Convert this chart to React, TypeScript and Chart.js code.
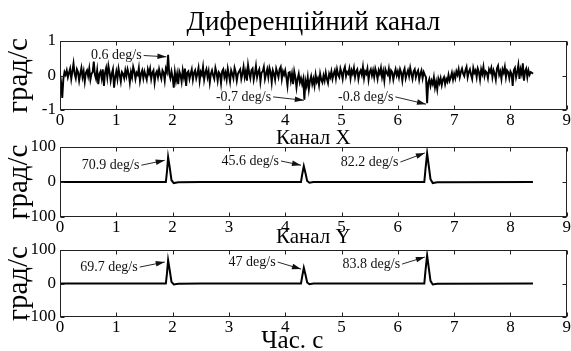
import React, { useEffect, useRef } from "react";
import { Chart, registerables } from "chart.js";

Chart.register(...registerables);

// ---------------- data ----------------
// differential channel (deg/s), sampled every TIME_STEP seconds starting at 0
const TIME_STEP = 0.02;
const diffValues: number[] = [
  0.05, -0.2, -0.65, -0.1, 0.1, 0.02, 0.15, -0.05, 0.08, 0.2, -0.1, 0.12, 0.35, 0.05, -0.08, 0.18, 0.1, -0.15, 0.05, 0.22,
  -0.05, 0.12, -0.18, 0.08, 0.15, -0.02, 0.2, -0.12, 0.05, 0.1, 0.4, 0.02, -0.1, 0.15, -0.25, 0.05, 0.12, -0.08, 0.18, -0.3,
  0.08, 0.22, -0.05, 0.28, 0.1, -0.15, 0.05, 0.18, -0.35, -0.05, 0.12, -0.1, 0.2, 0.02, -0.18, 0.1, 0.05, -0.08, 0.15, -0.02,
  0.18, 0.05, -0.2, 0.1, -0.05, 0.25, 0.12, -0.1, 0.08, 0.02, 0.22, -0.15, 0.05, 0.15, -0.08, 0.12, 0.0, -0.12, 0.18, 0.05,
  0.2, -0.1, 0.08, 0.15, -0.2, 0.05, 0.12, -0.05, 0.18, 0.02, -0.1, 0.15, 0.08, -0.15, 0.2, 0.1, 0.6, 0.05, -0.08, 0.12,
  -0.05, -0.35, 0.1, -0.15, 0.05, -0.25, 0.12, 0.02, -0.18, 0.15, -0.05, 0.2, -0.3, 0.08, 0.12, -0.1, 0.05, 0.18, -0.12, 0.08,
  0.15, -0.08, 0.05, 0.22, -0.15, 0.1, 0.02, 0.25, -0.12, 0.08, 0.18, -0.05, 0.12, -0.2, 0.05, 0.15, 0.0, -0.1, 0.22, 0.08,
  -0.15, 0.1, 0.05, -0.22, 0.12, 0.18, -0.05, 0.08, -0.12, 0.2, 0.02, -0.18, 0.15, 0.05, -0.08, 0.22, 0.1, -0.15, 0.05, 0.12,
  0.18, -0.1, 0.05, 0.25, -0.05, 0.12, -0.15, 0.3, 0.08, -0.08, 0.15, 0.2, -0.12, 0.05, 0.28, -0.05, 0.1, 0.18, -0.18, 0.08,
  0.12, 0.25, -0.1, 0.05, 0.18, -0.05, 0.22, 0.1, -0.2, 0.15, 0.05, -0.12, 0.2, 0.08, -0.05, 0.18, 0.25, -0.1, 0.12, 0.02,
  0.15, -0.05, -0.3, 0.08, 0.1, -0.15, 0.05, -0.25, 0.12, -0.05, -0.35, -0.1, 0.05, -0.2, -0.08, -0.25, -0.1, -0.7, -0.15, -0.3,
  -0.05, -0.4, -0.15, -0.02, -0.25, -0.1, -0.3, 0.02, -0.18, -0.08, -0.28, 0.05, -0.12, -0.2, 0.0, -0.15, 0.08, -0.1, -0.22, 0.05,
  -0.05, 0.12, -0.1, 0.05, 0.15, -0.08, 0.18, 0.02, -0.05, 0.2, 0.08, -0.1, 0.15, 0.25, -0.02, 0.1, 0.05, 0.2, -0.08, 0.15,
  0.05, 0.22, -0.05, 0.12, 0.18, -0.1, 0.08, 0.15, 0.02, 0.25, -0.08, 0.12, 0.05, 0.2, -0.12, 0.1, 0.18, 0.0, 0.15, -0.05,
  0.2, 0.08, -0.1, 0.15, 0.05, 0.22, -0.05, 0.12, -0.15, 0.18, 0.08, 0.02, 0.2, -0.08, 0.15, 0.1, -0.12, 0.05, 0.18, 0.0,
  0.12, -0.05, 0.18, 0.08, -0.15, 0.1, 0.2, -0.08, 0.05, 0.15, -0.02, 0.22, 0.05, -0.1, 0.12, 0.18, -0.05, 0.08, 0.15, -0.12,
  0.05, 0.15, -0.08, 0.1, 0.02, -0.05, -0.8, -0.2, -0.1, -0.3, -0.15, -0.25, -0.05, -0.35, -0.18, -0.4, -0.1, -0.22, -0.08, -0.28,
  -0.12, -0.05, -0.25, -0.1, -0.18, 0.02, -0.15, -0.05, 0.08, -0.12, 0.05, -0.08, 0.12, 0.02, 0.18, -0.05, 0.1, 0.2, 0.05, -0.02,
  0.15, 0.25, -0.05, 0.1, 0.18, 0.02, -0.1, 0.22, 0.08, 0.15, -0.05, 0.2, 0.1, -0.12, 0.18, 0.05, 0.25, -0.02, 0.12, 0.08,
  -0.08, 0.18, 0.1, 0.22, -0.05, 0.15, 0.05, -0.12, 0.2, 0.28, 0.02, 0.12, -0.1, 0.18, 0.08, 0.25, -0.05, 0.15, 0.1, -0.08,
  0.12, 0.05, -0.3, 0.15, 0.22, -0.05, 0.1, 0.3, -0.1, 0.18, 0.05, 0.35, -0.15, 0.12, 0.2, -0.05, 0.15, 0.02, 0.1, 0.08,
  0.05,
];

// channel X (deg/s)
const chanXTime: number[] = [0, 1.88, 1.9, 1.92, 1.95, 1.98, 2.02, 2.1, 2.5, 4.28, 4.3, 4.33, 4.36, 4.39, 4.43, 4.5, 6.47, 6.49, 6.52, 6.55, 6.58, 6.62, 6.7, 8.4];
const chanXValues: number[] = [0, 0, 30, 70.9, 40, 5, -3, -1, 0, 0, 20, 45.6, 25, 3, -2, 0, 0, 35, 82.2, 45, 8, -3, -1, 0];

// channel Y (deg/s)
const chanYTime: number[] = [0, 1.88, 1.9, 1.92, 1.95, 1.98, 2.02, 2.1, 2.5, 4.28, 4.3, 4.33, 4.36, 4.39, 4.43, 4.5, 6.47, 6.49, 6.52, 6.55, 6.58, 6.62, 6.7, 8.4];
const chanYValues: number[] = [0, 0, 30, 69.7, 38, 5, -3, -1, 0, 0, 20, 47, 26, 3, -2, 0, 0, 36, 83.8, 46, 8, -3, -1, 0];

// tick labels
const xTickValues: number[] = [0, 1, 2, 3, 4, 5, 6, 7, 8, 9];
const diffTickValues: number[] = [-1, 0, 1];
const chanTickValues: number[] = [-100, 0, 100];

// annotation labels
const diffLabels: string[] = ["0.6 deg/s", "-0.7 deg/s", "-0.8 deg/s"];
const chanXLabels: string[] = ["70.9 deg/s", "45.6 deg/s", "82.2 deg/s"];
const chanYLabels: string[] = ["69.7 deg/s", "47 deg/s", "83.8 deg/s"];

const titles: string[] = ["Диференційний канал", "Канал X", "Канал Y"];
const yAxisTitle = "град/с";
const xAxisTitle = "Час. с";

// ---------------- styling / layout ----------------
const FONT = '"Liberation Serif", "Times New Roman", serif';
const W = 571;
const H = 351;

// annotation placements in data coordinates: [textRightX, textY, tipX, tipY]
const diffAnnPos = [
  [1.45, 0.58, 1.89, 0.54],
  [3.75, -0.62, 4.33, -0.72],
  [5.92, -0.62, 6.5, -0.83],
];
const chanXAnnPos = [
  [1.41, 48, 1.86, 62],
  [3.89, 60, 4.28, 48],
  [6.01, 57, 6.48, 83],
];
const chanYAnnPos = [
  [1.38, 49, 1.86, 64],
  [3.83, 64, 4.28, 43],
  [6.04, 58, 6.48, 79],
];

const decorPlugin = {
  id: "decor",
  afterDraw(chart: any, _args: any, opts: any) {
    const ctx = chart.ctx as CanvasRenderingContext2D;
    const a = chart.chartArea;
    const xs = chart.scales.x;
    const ys = chart.scales.y;
    ctx.save();
    const L = Math.round(a.left) + 0.5;
    const R = Math.round(a.right) - 0.5;
    const T = Math.round(a.top) + 0.5;
    const B = Math.round(a.bottom) - 0.5;
    ctx.strokeStyle = "#222";
    ctx.lineWidth = 1;
    ctx.strokeRect(L, T, R - L, B - T);
    // inward ticks
    ctx.beginPath();
    const tl = 4;
    xs.ticks.forEach((t: any) => {
      const px = Math.round(xs.getPixelForValue(t.value)) + 0.5;
      ctx.moveTo(px, T);
      ctx.lineTo(px, T + tl);
      ctx.moveTo(px, B);
      ctx.lineTo(px, B - tl);
    });
    ys.ticks.forEach((t: any) => {
      const py = Math.round(ys.getPixelForValue(t.value)) + 0.5;
      ctx.moveTo(L, py);
      ctx.lineTo(L + tl, py);
      ctx.moveTo(R, py);
      ctx.lineTo(R - tl, py);
    });
    ctx.stroke();

    // annotations
    ctx.fillStyle = "#111";
    ctx.strokeStyle = "#111";
    ctx.font = `14px ${FONT}`;
    ctx.textAlign = "right";
    ctx.textBaseline = "middle";
    (opts.labels || []).forEach((label: string, i: number) => {
      const p = opts.positions[i];
      const tx = xs.getPixelForValue(p[0]);
      const ty = ys.getPixelForValue(p[1]);
      const ax = xs.getPixelForValue(p[2]);
      const ay = ys.getPixelForValue(p[3]);
      ctx.fillText(label, tx, ty);
      const sx = tx + 2;
      const sy = ty;
      ctx.beginPath();
      ctx.lineWidth = 0.9;
      ctx.moveTo(sx, sy);
      ctx.lineTo(ax, ay);
      ctx.stroke();
      const ang = Math.atan2(ay - sy, ax - sx);
      const hl = 9;
      const hw = 2.8;
      ctx.beginPath();
      ctx.moveTo(ax, ay);
      ctx.lineTo(ax - hl * Math.cos(ang) + hw * Math.sin(ang), ay - hl * Math.sin(ang) - hw * Math.cos(ang));
      ctx.lineTo(ax - hl * Math.cos(ang) - hw * Math.sin(ang), ay - hl * Math.sin(ang) + hw * Math.cos(ang));
      ctx.closePath();
      ctx.fill();
    });

    // titles
    ctx.fillStyle = "#000";
    ctx.textAlign = "center";
    ctx.textBaseline = "alphabetic";
    if (opts.title) {
      ctx.font = `${opts.titleSize}px ${FONT}`;
      ctx.fillText(opts.title, (a.left + a.right) / 2, a.top - opts.titleGap);
    }
    if (opts.xTitle) {
      ctx.font = `${opts.xTitleSize}px ${FONT}`;
      ctx.fillText(opts.xTitle, (a.left + a.right) / 2 + opts.xTitleShift, a.bottom + opts.xTitleGap);
    }
    ctx.restore();
  },
};

type Panel = {
  xData: number[];
  yData: number[];
  yMin: number;
  yMax: number;
  yTicks: number[];
  top: number;
  bottom: number;
  lineWidth: number;
  decor: any;
};

function buildConfig(p: Panel): any {
  const points = p.xData.map((x, i) => ({ x, y: p.yData[i] }));
  return {
    type: "line",
    data: {
      datasets: [
        {
          data: points,
          borderColor: "#000",
          borderWidth: p.lineWidth,
          pointRadius: 0,
          tension: 0,
          fill: false,
        },
      ],
    },
    plugins: [decorPlugin],
    options: {
      animation: false,
      responsive: false,
      maintainAspectRatio: false,
      events: [],
      layout: { padding: { left: 0, right: 2, top: p.top, bottom: H - p.bottom - 20 } },
      plugins: {
        legend: { display: false },
        tooltip: { enabled: false },
        title: { display: false },
        decor: p.decor,
      },
      scales: {
        x: {
          type: "linear",
          min: 0,
          max: 9,
          afterBuildTicks: (s: any) => {
            s.ticks = xTickValues.map((v) => ({ value: v }));
          },
          ticks: {
            font: { family: FONT, size: 17 },
            color: "#000",
            padding: 0,
            maxRotation: 0,
            autoSkip: false,
          },
          grid: { display: false, drawTicks: false },
          border: { display: false },
          afterFit: (s: any) => {
            s.height = 20;
          },
        },
        y: {
          type: "linear",
          min: p.yMin,
          max: p.yMax,
          afterBuildTicks: (s: any) => {
            s.ticks = p.yTicks.map((v) => ({ value: v }));
          },
          ticks: {
            font: { family: FONT, size: 17 },
            color: "#000",
            padding: 4,
            autoSkip: false,
          },
          grid: { display: false, drawTicks: false },
          border: { display: false },
          title: {
            display: true,
            text: yAxisTitle,
            font: { family: FONT, size: 29 },
            color: "#000",
            padding: { top: 2, bottom: 0 },
          },
          afterFit: (s: any) => {
            s.width = 60;
          },
        },
      },
    },
  };
}

const diffTime: number[] = diffValues.map((_, i) => +(i * TIME_STEP).toFixed(2));

const panels: Panel[] = [
  {
    xData: diffTime,
    yData: diffValues,
    yMin: -1,
    yMax: 1,
    yTicks: diffTickValues,
    top: 41,
    bottom: 110,
    lineWidth: 1.9,
    decor: {
      labels: diffLabels,
      positions: diffAnnPos,
      title: titles[0],
      titleSize: 27,
      titleGap: 11,
    },
  },
  {
    xData: chanXTime,
    yData: chanXValues,
    yMin: -100,
    yMax: 100,
    yTicks: chanTickValues,
    top: 147,
    bottom: 217,
    lineWidth: 2,
    decor: {
      labels: chanXLabels,
      positions: chanXAnnPos,
      title: titles[1],
      titleSize: 21,
      titleGap: 3,
    },
  },
  {
    xData: chanYTime,
    yData: chanYValues,
    yMin: -100,
    yMax: 100,
    yTicks: chanTickValues,
    top: 250,
    bottom: 317,
    lineWidth: 2,
    decor: {
      labels: chanYLabels,
      positions: chanYAnnPos,
      title: titles[2],
      titleSize: 21,
      titleGap: 7,
      xTitle: xAxisTitle,
      xTitleSize: 25,
      xTitleShift: -21,
      xTitleGap: 31,
    },
  },
];

function PanelCanvas({ panel }: { panel: Panel }) {
  const ref = useRef<HTMLCanvasElement | null>(null);
  useEffect(() => {
    if (!ref.current) return;
    const chart = new Chart(ref.current, buildConfig(panel));
    return () => chart.destroy();
  }, [panel]);
  return (
    <canvas
      ref={ref}
      width={W}
      height={H}
      style={{ position: "absolute", left: 0, top: 0, width: W, height: H, display: "block" }}
    />
  );
}

export default function App() {
  return (
    <div
      style={{
        position: "fixed",
        left: 0,
        top: 0,
        width: W,
        height: H,
        background: "#fff",
        overflow: "hidden",
      }}
    >
      {panels.map((p, i) => (
        <PanelCanvas key={i} panel={p} />
      ))}
    </div>
  );
}
